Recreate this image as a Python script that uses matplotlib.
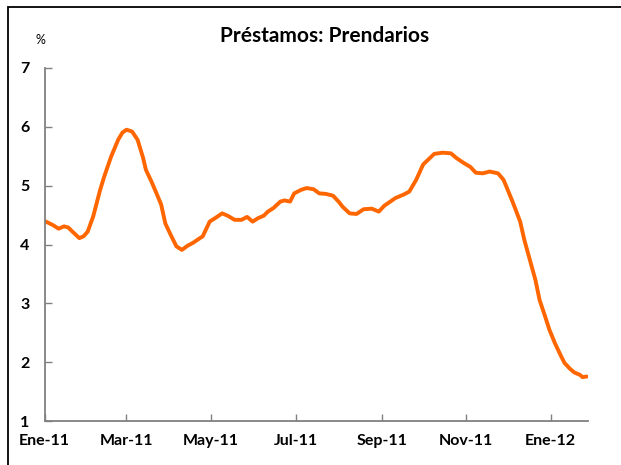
import pandas as pd
import matplotlib
matplotlib.use("Agg")
import matplotlib.pyplot as plt
from matplotlib.patches import Rectangle

# Días desde el 1 de enero de 2011 y tasa (%)
dias = [0, 6, 10, 14, 17, 20, 25, 28, 31, 35, 40, 43, 48, 53, 56, 59, 63, 67, 71, 73,
        77, 81, 84, 87, 91, 95, 99, 103, 107, 112, 114, 119, 123, 128, 132, 137, 142,
        146, 150, 154, 158, 161, 165, 170, 173, 177, 180, 185, 189, 194, 198, 203,
        208, 212, 215, 220, 225, 230, 236, 241, 245, 253, 259, 263, 268, 273, 277,
        281, 287, 293, 297, 302, 307, 311, 316, 321, 327, 331, 334, 338, 343, 346,
        350, 354, 357, 361, 364, 368, 372, 375, 379, 382, 386, 388, 391]
tasa = [4.40, 4.33, 4.27, 4.31, 4.29, 4.22, 4.11, 4.14, 4.22, 4.48, 4.93, 5.16, 5.50,
        5.78, 5.90, 5.95, 5.92, 5.78, 5.47, 5.27, 5.07, 4.85, 4.68, 4.36, 4.16, 3.97,
        3.91, 3.98, 4.03, 4.11, 4.14, 4.39, 4.45, 4.53, 4.49, 4.42, 4.42, 4.47, 4.39,
        4.45, 4.49, 4.56, 4.62, 4.73, 4.75, 4.73, 4.87, 4.93, 4.96, 4.94, 4.87, 4.86,
        4.83, 4.73, 4.64, 4.53, 4.52, 4.60, 4.61, 4.56, 4.66, 4.79, 4.85, 4.90, 5.10,
        5.36, 5.45, 5.54, 5.56, 5.55, 5.47, 5.39, 5.32, 5.22, 5.21, 5.24, 5.21, 5.10,
        4.93, 4.70, 4.39, 4.08, 3.74, 3.40, 3.06, 2.78, 2.56, 2.33, 2.13, 1.99, 1.89,
        1.83, 1.79, 1.75, 1.76]

meses_ticks = ["2011-01-01", "2011-03-01", "2011-05-01", "2011-07-01",
               "2011-09-01", "2011-11-01", "2012-01-01"]
etiquetas = ["Ene-11", "Mar-11", "May-11", "Jul-11", "Sep-11", "Nov-11", "Ene-12"]

fechas = pd.Timestamp("2011-01-01") + pd.to_timedelta(dias, unit="D")

plt.rcParams["font.family"] = ["Lato", "DejaVu Sans"]

fig = plt.figure(figsize=(6.21, 4.65), dpi=100)
ax = fig.add_axes([0.072, 0.094, 0.875, 0.76])

ax.plot(fechas, tasa, color="#FF6600", linewidth=2.8, solid_capstyle="round")

ax.set_ylim(1, 7)
ax.set_yticks(range(1, 8))
ax.set_xlim(pd.Timestamp("2011-01-01"), pd.Timestamp("2012-01-28"))
ax.set_xticks(pd.to_datetime(meses_ticks))
ax.set_xticklabels(etiquetas)

for lado in ["top", "right"]:
    ax.spines[lado].set_visible(False)
for lado in ["left", "bottom"]:
    ax.spines[lado].set_color("#808080")
    ax.spines[lado].set_linewidth(1.3)

ax.tick_params(axis="both", direction="in", length=5, width=1, color="#808080",
               labelsize=11.5)
ax.tick_params(axis="y", pad=11)
ax.tick_params(axis="x", pad=9)
for lbl in ax.get_xticklabels() + ax.get_yticklabels():
    lbl.set_fontweight("bold")

fig.text(325 / 621, 1 - 36 / 465, "Préstamos: Prendarios", ha="center", va="center",
         fontsize=15, fontweight="bold")
fig.text(40 / 621, 1 - 40 / 465, "%", ha="center", va="center", fontsize=9)

# marco exterior (solo se ven los bordes izquierdo y superior)
fig.patches.append(Rectangle((8 / 621, -0.05), 1.0, 1 - 7 / 465 + 0.05,
                             transform=fig.transFigure, fill=False,
                             edgecolor="black", linewidth=1.3))

fig.savefig("out.png", dpi=100)
